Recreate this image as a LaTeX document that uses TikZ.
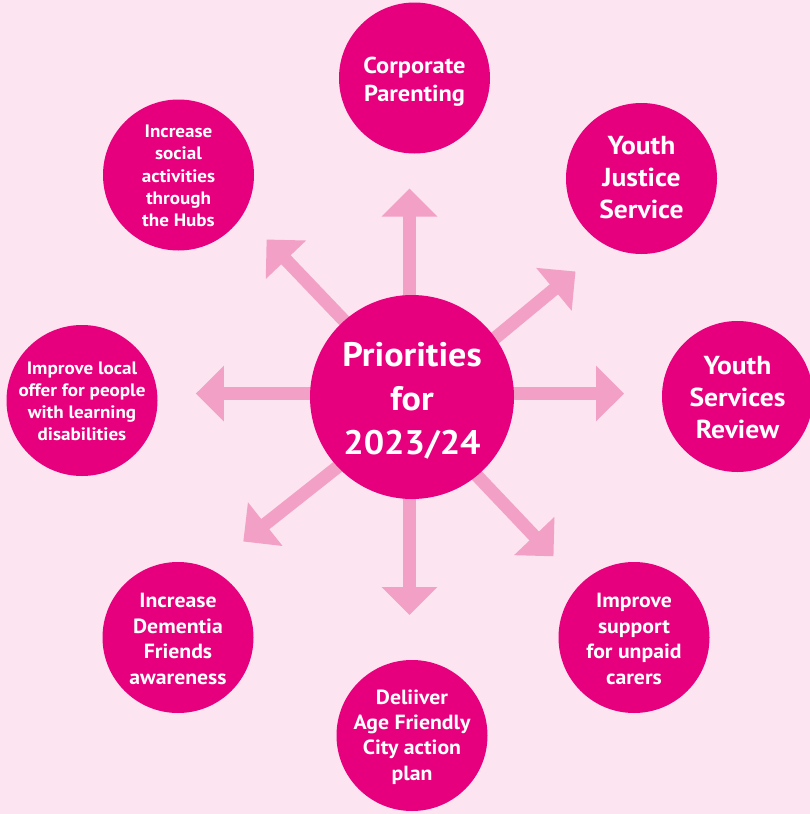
\documentclass[tikz,border=0pt]{standalone}
\usepackage{fontspec}
\setmainfont{PT Sans}[FakeStretch=1.06]
\usetikzlibrary{arrows.meta}
\definecolor{bg}{RGB}{252,228,240}
\definecolor{mag}{RGB}{230,0,126}
\definecolor{arr}{RGB}{242,160,197}
\begin{document}
\begin{tikzpicture}[x=1pt,y=-1pt,
  bubble/.style={circle, fill=mag, inner sep=0pt, minimum size=151pt},
  btext/.style={text=white, align=center, inner sep=0pt},
  spoke/.style={draw=arr, line width=13pt, -{Triangle[width=54pt,length=28pt]}}]
\fill[bg] (0,0) rectangle (810,814);
\useasboundingbox (0,0) rectangle (810,814);
% arrow coordinates
\coordinate (sN) at (409.5,380);  \coordinate (tN) at (409.5,188.5);
\coordinate (sS) at (409.5,400);  \coordinate (tS) at (409.5,615);
\coordinate (sE) at (420,393.6);  \coordinate (tE) at (624,393.6);
\coordinate (sW) at (400,393.6);  \coordinate (tW) at (195.8,393.6);
\coordinate (sNW) at (404.6,384); \coordinate (tNW) at (266.6,239.5);
\coordinate (sNE) at (421.5,398.9); \coordinate (tNE) at (575.5,271.5);
\coordinate (sSE) at (415.9,411.3); \coordinate (tSE) at (553.5,556.3);
\coordinate (sSW) at (400.1,417.5); \coordinate (tSW) at (243.3,541.5);
\foreach \d in {N,S,E,W,NW,NE,SE,SW} \draw[spoke] (s\d) -- (t\d);
% circles
\node[bubble, minimum size=204pt] (c) at (412,397) {};
\node[bubble] (cp) at (414.5,78) {};
\node[bubble] (yj) at (641.5,178.5) {};
\node[bubble] (ys) at (737.5,396.5) {};
\node[bubble] (uc) at (634,637.5) {};
\node[bubble] (af) at (412,735.5) {};
\node[bubble] (df) at (178,637.5) {};
\node[bubble] (ld) at (82,400.5) {};
\node[bubble] (sa) at (178.5,175) {};
% texts
\node[btext, font=\bfseries\fontsize{34}{44}\selectfont] (c-t) at ([yshift=-4pt]c.center) {Priorities\\for\\2023/24};
\node[btext, font=\bfseries\fontsize{23}{28.4}\selectfont] (cp-t) at ([yshift=-3.5pt]cp.center) {Corporate\\Parenting};
\node[btext, font=\bfseries\fontsize{26}{32}\selectfont] (yj-t) at ([yshift=0.5pt]yj.center) {Youth\\Justice\\Service};
\node[btext, font=\bfseries\fontsize{26}{32}\selectfont] (ys-t) at ([yshift=-1pt]ys.center) {Youth\\Services\\Review};
\node[btext, font=\bfseries\fontsize{20.5}{25.6}\selectfont] (uc-t) at ([yshift=-1.5pt]uc.center) {Improve\\support\\for unpaid\\carers};
\node[btext, font=\bfseries\fontsize{20.5}{25.4}\selectfont] (af-t) at ([yshift=-1.5pt]af.center) {Deliiver\\Age Friendly\\City action\\plan};
\node[btext, font=\bfseries\fontsize{20.5}{25.6}\selectfont] (df-t) at ([yshift=-1.5pt]df.center) {Increase\\Dementia\\Friends\\awareness};
\node[btext, font=\bfseries\fontsize{18}{22}\selectfont] (ld-t) at ([yshift=-1pt]ld.center) {Improve local\\offer for people\\with learning\\disabilities};
\node[btext, font=\bfseries\fontsize{18}{22.2}\selectfont] (sa-t) at ([yshift=-1pt]sa.center) {Increase\\social\\activities\\through\\the Hubs};
\end{tikzpicture}
\end{document}
